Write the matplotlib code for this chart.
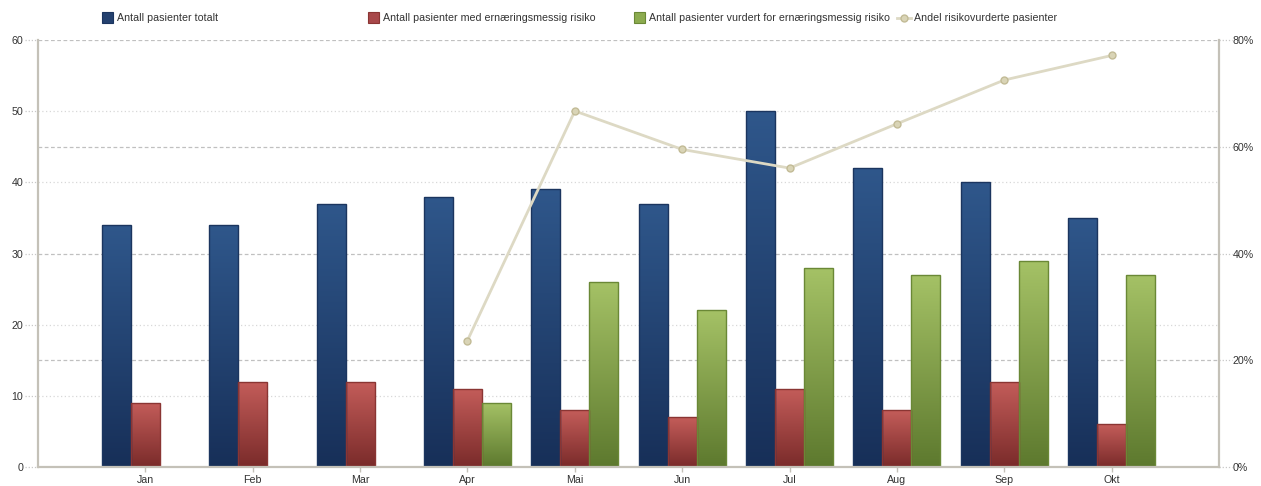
import numpy as np
import matplotlib
matplotlib.use("Agg")
import matplotlib.pyplot as plt
from matplotlib.colors import LinearSegmentedColormap
from matplotlib.patches import Rectangle
from matplotlib.lines import Line2D

plt.rcParams['font.family'] = ['Liberation Sans', 'DejaVu Sans']

months = ["Jan", "Feb", "Mar", "Apr", "Mai", "Jun", "Jul", "Aug", "Sep", "Okt"]
total = [34, 34, 37, 38, 39, 37, 50, 42, 40, 35]
at_risk = [9, 12, 12, 11, 8, 7, 11, 8, 12, 6]
assessed = [np.nan, np.nan, np.nan, 9, 26, 22, 28, 27, 29, 27]
share_assessed = [np.nan, np.nan, np.nan, 23.7, 66.7, 59.5, 56.0, 64.3, 72.5, 77.1]

series_names = ["Antall pasienter totalt",
                "Antall pasienter med ernæringsmessig risiko",
                "Antall pasienter vurdert for ernæringsmessig risiko",
                "Andel risikovurderte pasienter"]

W, H = 1261, 486
fig = plt.figure(figsize=(W / 100, H / 100), dpi=100)
ax = fig.add_axes([38 / W, 1 - 467 / H, (1219 - 38) / W, (467 - 40) / H])

text_color = "#333333"
axis_color = "#c4c1b8"
fs = 7.7

blue_cmap = LinearSegmentedColormap.from_list("b", ["#172f58", "#2f578b"])
red_cmap = LinearSegmentedColormap.from_list("r", ["#7a2b2a", "#c45d5a"])
green_cmap = LinearSegmentedColormap.from_list("g", ["#5d792e", "#a5c266"])

x = np.arange(1, len(months) + 1)
bw = 0.27


def gradient_bars(xs, vals, cmap, edge):
    xs = np.asarray(xs, float)
    vals = np.asarray(vals, float)
    keep = ~np.isnan(vals)
    bars = ax.bar(xs[keep], vals[keep], width=bw, facecolor="none",
                  edgecolor=edge, linewidth=1.0, zorder=3)
    grad = np.linspace(1, 0, 256).reshape(-1, 1)
    for r in bars:
        x0, y0 = r.get_xy()
        im = ax.imshow(grad, extent=[x0, x0 + r.get_width(), y0, y0 + r.get_height()],
                       origin="upper", cmap=cmap, aspect="auto", zorder=2.9,
                       interpolation="bilinear")
        im.set_clip_path(r)
    return bars


gradient_bars(x - bw, total, blue_cmap, "#1b355f")
gradient_bars(x, at_risk, red_cmap, "#8a3533")
gradient_bars(x + bw, assessed, green_cmap, "#6a8836")

ax.set_xlim(0, 11)
ax.set_ylim(0, 60)

# gridlines: dotted for the left scale, dashed for the percentage scale
for v in [10, 20, 40, 50]:
    ax.axhline(v, color="#d8d8d8", linestyle=(0, (1, 2)), linewidth=0.9, zorder=1)
for v in [15, 30, 45, 60]:
    ax.axhline(v, color="#c0c0c0", linestyle=(0, (3, 2)), linewidth=0.9, zorder=1)

# dotted leaders between tick labels and axes
lead = ax.get_yaxis_transform()
for v in range(0, 61, 10):
    ax.plot([-0.011, 0], [v, v], transform=lead, color="#c8c8c8",
            linestyle=(0, (1, 1.5)), linewidth=0.9, clip_on=False, zorder=1)
for v in [0, 15, 30, 45, 60]:
    ax.plot([1, 1.011], [v, v], transform=lead, color="#c8c8c8",
            linestyle=(0, (1, 1.5)), linewidth=0.9, clip_on=False, zorder=1)

ax.spines["top"].set_visible(False)
for s in ["left", "bottom", "right"]:
    ax.spines[s].set_color(axis_color)
    ax.spines[s].set_linewidth(1.6)
    ax.spines[s].set_zorder(4)

ax.set_xticks(x)
ax.set_xticklabels(months)
ax.set_yticks(range(0, 61, 10))
ax.tick_params(axis="x", direction="out", length=3.6, color=axis_color, width=1,
               labelsize=fs, labelcolor=text_color, pad=2)
ax.tick_params(axis="y", length=0, labelsize=fs, labelcolor=text_color, pad=10.5)

ax2 = ax.twinx()
ax2.set_ylim(0, 80)
ax2.plot(x, share_assessed, color="#ddd9c4", linewidth=2, marker="o",
         markersize=5, markerfacecolor="#d9d4b6", markeredgecolor="#c2bb96",
         markeredgewidth=1, zorder=5)
ax2.set_yticks([0, 20, 40, 60, 80])
ax2.set_yticklabels([f"{v}%" for v in [0, 20, 40, 60, 80]])
ax2.tick_params(axis="y", length=0, labelsize=fs, labelcolor=text_color, pad=10)
for s in ax2.spines.values():
    s.set_visible(False)


# legend row across the top, placed in pixel units
def fx(px):
    return px / W


def fy(py):
    return 1 - py / H


ly = 18
sq = 11
squares = [(102, "#24416f", "#1b355f"), (368, "#a8484a", "#8a3533"), (634, "#8cab4f", "#6a8836")]
for (px, fc, ec), name in zip(squares, series_names[:3]):
    fig.patches.append(Rectangle((fx(px), fy(ly + sq / 2)), sq / W, sq / H,
                                 transform=fig.transFigure, facecolor=fc,
                                 edgecolor=ec, linewidth=0.8))
    fig.text(fx(px + 15), fy(ly), name, fontsize=fs, color=text_color,
             va="center", ha="left")
fig.lines.append(Line2D([fx(897), fx(911)], [fy(ly), fy(ly)], transform=fig.transFigure,
                        color="#ddd9c4", linewidth=2))
fig.lines.append(Line2D([fx(904)], [fy(ly)], transform=fig.transFigure, marker="o",
                        markersize=5, markerfacecolor="#d9d4b6",
                        markeredgecolor="#c2bb96", linestyle="none"))
fig.text(fx(914), fy(ly), series_names[3], fontsize=fs, color=text_color,
         va="center", ha="left")

fig.savefig("out.png", dpi=100)
